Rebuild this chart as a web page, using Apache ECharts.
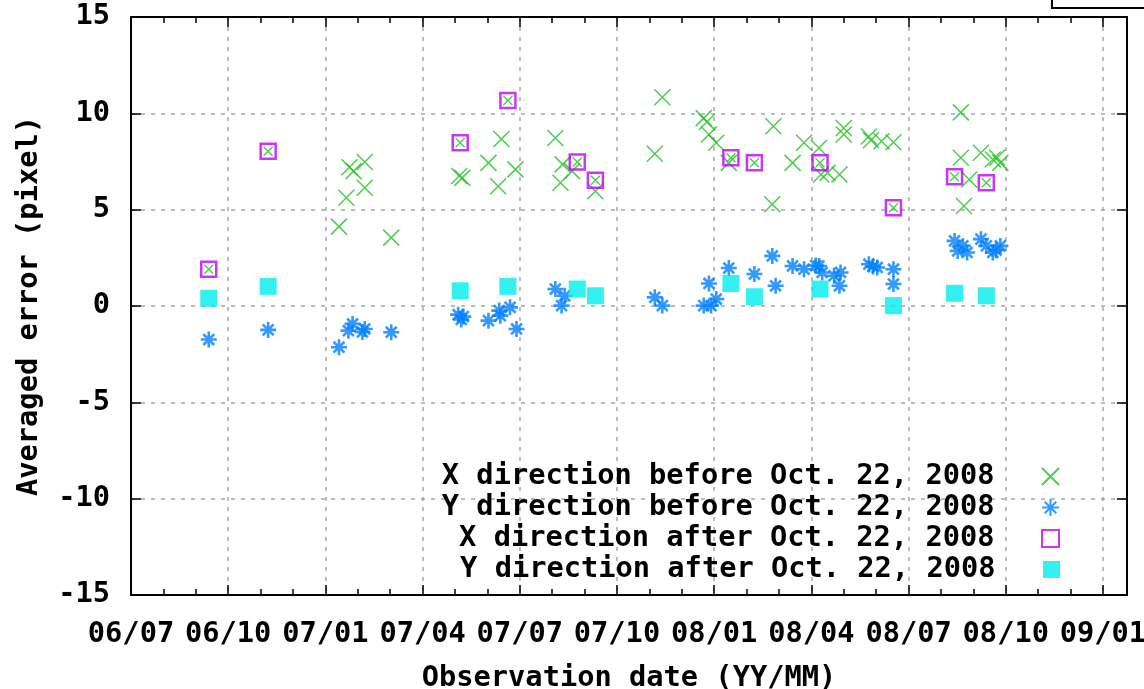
<!DOCTYPE html>
<html>
<head>
<meta charset="utf-8">
<title>Averaged error</title>
<style>
    body{
        margin:0;
        background-color:#FFFFFF;
    }
    #main{
        width:1144px;
        height:689px;
    }
</style>
</head>
<body>
<div id="main"></div>

<script src="https://cdn.jsdelivr.net/npm/echarts@6/dist/echarts.min.js"></script>

<script>
    // X direction before Oct. 22, 2008
    var xBeforeDates = ['2007-01-14','2007-01-21','2007-01-24','2007-01-28','2007-02-07','2007-02-07','2007-03-02',
        '2007-05-05','2007-05-08','2007-06-02','2007-06-11','2007-06-14','2007-06-27',
        '2007-08-04','2007-08-09','2007-08-11','2007-08-20','2007-09-11',
        '2007-11-06','2007-11-13','2007-12-22','2007-12-25','2007-12-27','2008-01-03','2008-01-15',
        '2008-02-24','2008-02-25','2008-03-14','2008-03-25','2008-04-08','2008-04-10','2008-04-16','2008-04-27',
        '2008-05-01','2008-05-01','2008-05-25','2008-05-27','2008-06-06','2008-06-17',
        '2008-08-20','2008-08-20','2008-08-23','2008-08-28','2008-09-08','2008-09-19','2008-09-23','2008-09-26'];
    var xBeforeErr = [4.12, 5.62, 7.2, 7.0, 7.47, 6.14, 3.55,
        6.75, 6.65, 7.43, 6.22, 8.67, 7.09,
        8.72, 6.40, 7.35, 7.0, 5.96,
        7.9, 10.83, 9.75, 9.55, 8.9, 8.47, 7.43,
        5.28, 9.33, 7.43, 8.47, 8.2, 6.83, 6.91, 6.83,
        9.24, 8.9, 8.8, 8.6, 8.55, 8.5,
        10.05, 7.69, 5.19, 6.57, 7.95, 7.6, 7.69, 7.43];

    // Y direction before Oct. 22, 2008
    var yBeforeDates = ['2006-09-13','2006-11-08','2007-01-14','2007-01-23','2007-01-27','2007-02-05','2007-02-07','2007-03-02',
        '2007-05-04','2007-05-07','2007-05-09','2007-06-02','2007-06-12','2007-06-13','2007-06-22','2007-06-28',
        '2007-08-04','2007-08-10','2007-08-13','2007-11-06','2007-11-13','2007-12-22','2007-12-27','2007-12-29',
        '2008-01-03','2008-01-15','2008-02-08','2008-02-24','2008-02-27','2008-03-14','2008-03-25',
        '2008-04-05','2008-04-08','2008-04-11','2008-04-22','2008-04-27','2008-04-28',
        '2008-05-25','2008-05-29','2008-06-02','2008-06-17','2008-06-17',
        '2008-08-14','2008-08-17','2008-08-22','2008-08-26','2008-09-08','2008-09-13','2008-09-19','2008-09-22','2008-09-26'];
    var yBeforeErr = [-1.74, -1.24, -2.14, -1.28, -0.93, -1.35, -1.19, -1.36,
        -0.45, -0.7, -0.55, -0.76, -0.24, -0.5, -0.07, -1.19,
        0.88, 0.02, 0.53, 0.45, 0.02, 0.02, 1.17, 0.02,
        0.36, 1.97, 1.66, 2.6, 1.05, 2.08, 1.91,
        2.1, 2.08, 1.74, 1.57, 1.05, 1.74,
        2.17, 2.05, 2.0, 1.91, 1.14,
        3.38, 2.86, 3.12, 2.78, 3.47, 3.12, 2.78, 2.9, 3.12];

    // after Oct. 22, 2008 (same observation dates for X and Y)
    var afterDates = ['2006-09-13','2006-11-08','2007-05-06','2007-06-20','2007-08-25','2007-09-11',
        '2008-01-17','2008-02-08','2008-04-09','2008-06-17','2008-08-14','2008-09-13'];
    var xAfterErr = [1.91, 8.03, 8.47, 10.67, 7.47, 6.53, 7.69, 7.43, 7.43, 5.1, 6.71, 6.40];
    var yAfterErr = [0.40, 1.02, 0.79, 1.02, 0.88, 0.53, 1.17, 0.48, 0.88, 0.02, 0.66, 0.53];

    var seriesNames = ['X direction before Oct. 22, 2008', 'Y direction before Oct. 22, 2008',
        'X direction after Oct. 22, 2008', 'Y direction after Oct. 22, 2008'];
    var yTicks = [-15, -10, -5, 0, 5, 10, 15];
    var xStart = '2006-07-01';
    var xEnd = '2009-01-24';

    // months counted from 2006/07, fractional by day
    function monthIndex(s){
        var p = s.split('-');
        var y = +p[0], m = +p[1], d = +p[2];
        var dim = new Date(y, m, 0).getDate();
        return (y - 2006) * 12 + (m - 7) + (d - 1) / dim;
    }
    function pairs(dates, vals){
        return dates.map(function(d, i){ return [monthIndex(d), vals[i]]; });
    }
    function monthLabel(v){
        var k = Math.round(v) + 6;
        var yy = 2006 + Math.floor(k / 12);
        var mm = k % 12 + 1;
        return String(yy % 100).padStart(2, '0') + '/' + String(mm).padStart(2, '0');
    }

    var font = 'DejaVu Sans Mono';
    var fsize = 28.7;
    var textStyle = {fontFamily: font, fontWeight: 'bold', fontSize: fsize, color: '#000'};
    var xMin = monthIndex(xStart), xMax = monthIndex(xEnd);

    var symX = 'path://M0,0L10,10M10,0L0,10';
    var symStar = 'path://M0,5L10,5M5,0L5,10M1.6,1.6L8.4,8.4M8.4,1.6L1.6,8.4';
    var symSquare = 'path://M0,0L10,0L10,10L0,10Z';

    var black = {color: '#000', width: 2};
    var grid = {type: [4, 6], color: '#a8a8a8', width: 1.5};

    function xAx(pos, step, tickLen, main){
        return {
            type: 'value', position: pos, min: xMin, max: xMax, interval: step,
            axisLine: {show: main, onZero: false, lineStyle: black},
            axisTick: {inside: true, length: tickLen, lineStyle: {color: '#000', width: 1.5}},
            axisLabel: main && pos === 'bottom' ? {
                formatter: monthLabel, showMaxLabel: false, margin: 25,
                fontFamily: font, fontWeight: 'bold', fontSize: fsize, color: '#000'
            } : {show: false},
            splitLine: {show: main && pos === 'bottom', lineStyle: grid},
            name: main && pos === 'bottom' ? 'Observation date (YY/MM)' : '',
            nameLocation: 'middle', nameGap: 69, nameTextStyle: textStyle
        };
    }

    var myChart = echarts.init(document.getElementById('main'));

    var option = {
        animation: false,
        grid: {left: 131, right: 17, top: 17, bottom: 94, outerBoundsMode: 'none', containLabel: false},
        xAxis: [
            xAx('bottom', 3, 10, true),
            xAx('bottom', 1, 6, false),
            xAx('top', 3, 10, true),
            xAx('top', 1, 6, false)
        ],
        yAxis: [{
            type: 'value', min: yTicks[0], max: yTicks[yTicks.length - 1], interval: 5,
            axisLine: {onZero: false, lineStyle: black},
            axisTick: {inside: true, length: 10, lineStyle: {color: '#000', width: 1.5}},
            axisLabel: {margin: 21, fontFamily: font, fontWeight: 'bold', fontSize: fsize, color: '#000'},
            splitLine: {show: true, lineStyle: grid},
            name: 'Averaged error (pixel)', nameLocation: 'middle', nameGap: 87,
            nameTextStyle: textStyle
        }, {
            type: 'value', position: 'right', min: yTicks[0], max: yTicks[yTicks.length - 1], interval: 5,
            axisLine: {show: true, onZero: false, lineStyle: black},
            axisTick: {inside: true, length: 10, lineStyle: {color: '#000', width: 1.5}},
            axisLabel: {show: false},
            splitLine: {show: false}
        }],
        legend: seriesNames.map(function(n, i){
            return {
                data: [n], orient: 'vertical', align: 'right', right: 84, top: 462 + 31 * i,
                padding: 0, itemWidth: 102, itemHeight: 17, selectedMode: false,
                textStyle: textStyle
            };
        }),
        series: [{
            name: seriesNames[0], type: 'scatter', symbol: symX, symbolSize: 16,
            itemStyle: {color: 'rgba(0,0,0,0)', borderColor: '#22c022', borderWidth: 1.5},
            data: pairs(xBeforeDates, xBeforeErr)
        }, {
            name: seriesNames[1], type: 'scatter', symbol: symStar, symbolSize: 16,
            itemStyle: {color: 'rgba(0,0,0,0)', borderColor: '#0080ff', borderWidth: 2.6},
            data: pairs(yBeforeDates, yBeforeErr)
        }, {
            name: 'inner', type: 'scatter', symbol: symX, symbolSize: 9,
            itemStyle: {color: 'rgba(0,0,0,0)', borderColor: '#22c022', borderWidth: 1.4},
            data: pairs(afterDates, xAfterErr)
        }, {
            name: seriesNames[2], type: 'scatter', symbol: symSquare, symbolSize: 15,
            itemStyle: {color: 'rgba(0,0,0,0)', borderColor: '#c000ff', borderWidth: 2.5},
            data: pairs(afterDates, xAfterErr)
        }, {
            name: seriesNames[3], type: 'scatter', symbol: symSquare, symbolSize: 17,
            itemStyle: {color: '#00eeee'},
            data: pairs(afterDates, yAfterErr)
        }],
        graphic: [{
            type: 'rect', shape: {x: 1052, y: -10, width: 100, height: 18},
            style: {fill: '#fff', stroke: '#000', lineWidth: 2}
        }]
    };

    myChart.setOption(option);
</script>
</body>
</html>
